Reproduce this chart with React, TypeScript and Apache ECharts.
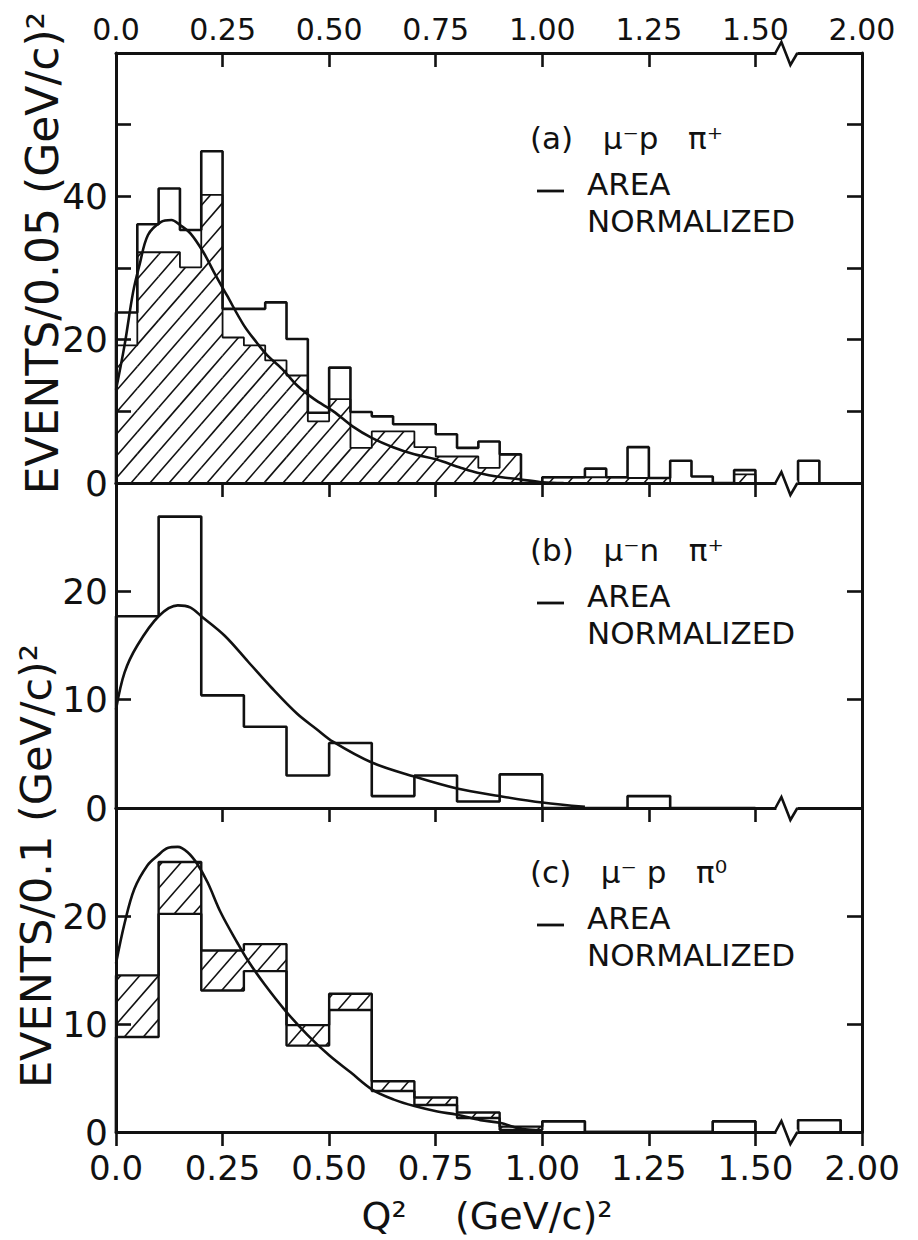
import React, { useEffect, useRef } from "react";
import * as echarts from "echarts";

const INK = "#111111";
const FONT = "DejaVu Sans";

// x axis: a break after 1.50 removes 0.25 of Q² so that 2.00 sits one tick after 1.50
const X_TICK_LABELS = ["0.0", "0.25", "0.50", "0.75", "1.00", "1.25", "1.50", "2.00"];
const X_TICK_STEP = 0.25;
const X_AXIS_MAX = 1.75;
const BREAK_AT = 1.575;
const BREAK_SHIFT = 0.25;

const Y_MAX = [60, 30, 30];
const Y_LABELS_A = [0, 20, 40];
const Y_LABELS_BC = [0, 10, 20];

// ---------- panel (a): mu- p pi+, bins of 0.05 ----------
const A_BIN_WIDTH = 0.05;
const A_BINS = [
  0.0, 0.05, 0.1, 0.15, 0.2, 0.25, 0.3, 0.35, 0.4, 0.45,
  0.5, 0.55, 0.6, 0.65, 0.7, 0.75, 0.8, 0.85, 0.9, 0.95,
  1.0, 1.05, 1.1, 1.15, 1.2, 1.25, 1.3, 1.35, 1.4, 1.45,
  1.85,
];
const A_TOTAL = [
  23.8, 36.1, 41.1, 35.3, 46.3, 24.3, 24.3, 25.2, 20.1, 9.8,
  16.1, 9.9, 9.3, 8.2, 8.2, 6.8, 4.9, 5.8, 4.0, 0,
  0.8, 0.8, 2.0, 0.8, 5.0, 0.7, 3.1, 0.9, 0, 1.8,
  3.1,
];
const A_HATCHED = [
  19.2, 32.2, 32.2, 30.1, 40.2, 20.3, 19.2, 17.1, 15.0, 8.6,
  11.7, 4.9, 7.2, 7.2, 5.0, 3.7, 3.7, 2.1, 4.0, 0,
  0.8, 0.8, 0.8, 0.8, 0.7, 0.7, 0, 0, 0, 1.2,
  0,
];
const A_CURVE_X = [
  0, 0.02, 0.04, 0.055, 0.075, 0.105, 0.13, 0.15, 0.175, 0.205,
  0.23, 0.26, 0.3, 0.33, 0.355, 0.39, 0.425, 0.465, 0.51, 0.555,
  0.6, 0.65, 0.7, 0.75, 0.81, 0.85, 0.905, 0.95, 1.0, 1.05,
];
const A_CURVE_Y = [
  13, 19.2, 26.6, 30.4, 34.6, 36.4, 36.7, 36.0, 34.8, 32.2,
  29.4, 26.2, 22.0, 19.6, 17.8, 15.9, 13.6, 11.7, 10.0, 7.9,
  6.3, 5.0, 4.0, 3.3, 2.1, 1.4, 0.8, 0.5, 0.1, 0,
];

// ---------- panel (b): mu- n pi+, bins of 0.1 ----------
const B_BIN_WIDTH = 0.1;
const B_BINS = [0.0, 0.1, 0.2, 0.3, 0.4, 0.5, 0.6, 0.7, 0.8, 0.9, 1.0, 1.1, 1.2, 1.3, 1.4];
const B_COUNTS = [17.7, 26.9, 10.4, 7.5, 3.0, 6.0, 1.1, 3.0, 0.6, 3.1, 0, 0, 1.1, 0, 0];
const B_CURVE_X = [
  0, 0.02, 0.05, 0.1, 0.145, 0.175, 0.2, 0.255, 0.31, 0.365,
  0.425, 0.47, 0.51, 0.6, 0.7, 0.8, 0.9, 1.0, 1.1,
];
const B_CURVE_Y = [
  9.1, 12.5, 15.0, 17.7, 18.7, 18.5, 17.7, 15.9, 13.5, 11.1,
  8.7, 7.3, 6.1, 4.2, 2.9, 1.8, 1.1, 0.5, 0.1,
];

// ---------- panel (c): mu- p pi0, bins of 0.1, hatched band ----------
const C_BIN_WIDTH = 0.1;
const C_BINS = [0.0, 0.1, 0.2, 0.3, 0.4, 0.5, 0.6, 0.7, 0.8, 0.9, 1.0, 1.1, 1.2, 1.3, 1.4, 1.85];
const C_LOW = [8.8, 20.2, 13.1, 14.9, 8.0, 11.3, 3.8, 2.5, 1.3, 0.2, 1.0, 0, 0, 0, 1.0, 1.1];
const C_HIGH = [14.5, 25.0, 16.8, 17.4, 9.9, 12.8, 4.7, 3.2, 1.8, 0.5, 1.0, 0, 0, 0, 1.0, 1.1];
const C_CURVE_X = [
  0, 0.02, 0.043, 0.074, 0.098, 0.121, 0.145, 0.168, 0.191, 0.215,
  0.246, 0.285, 0.309, 0.348, 0.398, 0.449, 0.5, 0.551, 0.602, 0.652,
  0.7, 0.754, 0.8, 0.855, 0.9, 0.95, 1.0,
];
const C_CURVE_Y = [
  15.6, 19.3, 22.5, 24.7, 25.6, 26.3, 26.4, 25.9, 24.8, 23.1,
  20.3, 17.5, 15.9, 13.7, 11.2, 9.0, 7.1, 5.5, 3.9, 3.0,
  2.4, 1.9, 1.6, 1.1, 0.85, 0.3, 0.15,
];

// ---------- texts ----------
const Y_TITLE_TOP = "EVENTS/0.05 (GeV/c)²";
const Y_TITLE_BOTTOM = "EVENTS/0.1 (GeV/c)²";
const X_TITLE = "Q²    (GeV/c)²";
const PANEL_LABELS = ["(a)   μ⁻p   π⁺", "(b)   μ⁻n   π⁺", "(c)   μ⁻ p   π⁰"];
const NOTE_LINE1 = "AREA";
const NOTE_LINE2 = "NORMALIZED";

// ---------- helpers ----------
const toAxis = (q: number) => (q > BREAK_AT ? q - BREAK_SHIFT : q);

function stepSegments(bins: number[], width: number, values: number[]) {
  const segs: number[][][] = [];
  let cur: number[][] | null = null;
  let prevEnd = -1;
  bins.forEach((x0, i) => {
    const x1 = x0 + width;
    if (!cur || Math.abs(x0 - prevEnd) > 1e-6) {
      if (cur) {
        cur.push([prevEnd, 0]);
        segs.push(cur);
      }
      cur = [[x0, 0]];
    }
    cur.push([x0, values[i]], [x1, values[i]]);
    prevEnd = x1;
  });
  if (cur) {
    (cur as number[][]).push([prevEnd, 0]);
    segs.push(cur);
  }
  return segs.map((s) => s.map(([x, y]) => [toAxis(x), y]));
}

function stepSeries(grid: number, bins: number[], width: number, values: number[], lw: number) {
  return stepSegments(bins, width, values).map((pts) => ({
    type: "line",
    xAxisIndex: grid * 2 + 1,
    yAxisIndex: grid * 2,
    data: pts,
    symbol: "none",
    silent: true,
    lineStyle: { color: INK, width: lw },
    z: 4,
  }));
}

const HATCH_GAP = 19;
const HATCH_SLOPE = 1.15;

function hatchSeries(grid: number, items: number[][]) {
  return {
    type: "custom",
    xAxisIndex: grid * 2 + 1,
    yAxisIndex: grid * 2,
    data: items,
    encode: { x: [0, 1], y: [2, 3] },
    silent: true,
    z: 3,
    renderItem: (_params: any, api: any) => {
      const tl = api.coord([api.value(0), api.value(3)]);
      const br = api.coord([api.value(1), api.value(2)]);
      const left = tl[0];
      const right = br[0];
      const top = tl[1];
      const bottom = br[1];
      const children: any[] = [];
      if (bottom - top < 1) return { type: "group", children };
      const t = HATCH_SLOPE;
      const cMin = Math.ceil((left + top / t) / HATCH_GAP) * HATCH_GAP;
      const cMax = right + bottom / t;
      for (let c = cMin; c <= cMax; c += HATCH_GAP) {
        const xa = Math.max(left, c - bottom / t);
        const xb = Math.min(right, c - top / t);
        if (xb - xa > 0.8) {
          children.push({
            type: "line",
            shape: { x1: xa, y1: (c - xa) * t, x2: xb, y2: (c - xb) * t },
            style: { stroke: INK, lineWidth: 1.6 },
          });
        }
      }
      return { type: "group", children };
    },
  };
}

function curveSeries(grid: number, xs: number[], ys: number[]) {
  return {
    type: "line",
    xAxisIndex: grid * 2 + 1,
    yAxisIndex: grid * 2,
    data: xs.map((x, i) => [toAxis(x), ys[i]]),
    smooth: 0.35,
    symbol: "none",
    silent: true,
    lineStyle: { color: INK, width: 2.6 },
    z: 5,
  };
}

function breakSeries(grid: number, withTop: boolean) {
  const data = [[BREAK_AT, 0]];
  if (withTop) data.push([BREAK_AT, Y_MAX[grid]]);
  return {
    type: "custom",
    xAxisIndex: grid * 2 + 1,
    yAxisIndex: grid * 2,
    data,
    encode: { x: 0, y: 1 },
    silent: true,
    clip: false,
    z: 10,
    renderItem: (_params: any, api: any) => {
      const p = api.coord([api.value(0), api.value(1)]);
      const cx = p[0];
      const cy = p[1];
      return {
        type: "group",
        children: [
          { type: "rect", shape: { x: cx - 11, y: cy - 2.5, width: 21, height: 5 }, style: { fill: "#ffffff" } },
          {
            type: "polyline",
            shape: { points: [[cx - 12, cy], [cx - 6, cy - 11], [cx + 3, cy + 12], [cx + 10, cy]] },
            style: { stroke: INK, lineWidth: 2.6, fill: "none" },
          },
        ],
      };
    },
  };
}

const GRIDS = [
  { left: 116, right: 56, top: 53, height: 430 },
  { left: 116, right: 56, top: 483, height: 325 },
  { left: 116, right: 56, top: 808, height: 324 },
];
const NOTE_TOP = [138, 550, 872];

export default function App() {
  const ref = useRef<HTMLDivElement>(null);

  useEffect(() => {
    if (!ref.current) return;
    const chart = echarts.init(ref.current, undefined, { renderer: "svg" });

    const xLabel = (v: number) => X_TICK_LABELS[Math.round(v / X_TICK_STEP)] ?? "";
    const lineStyle = { color: INK, width: 3 };
    const tickStyle = { color: INK, width: 2.6 };

    const xAxis: any[] = [];
    const yAxis: any[] = [];
    GRIDS.forEach((_g, i) => {
      xAxis.push({
        gridIndex: i,
        type: "value",
        position: "top",
        min: 0,
        max: X_AXIS_MAX,
        interval: X_TICK_STEP,
        axisLine: { show: true, onZero: false, lineStyle },
        axisTick: { show: true, inside: true, length: 14, lineStyle: tickStyle },
        axisLabel: {
          show: i === 0,
          formatter: xLabel,
          fontFamily: FONT,
          fontSize: 30,
          color: INK,
          margin: 9,
        },
        splitLine: { show: false },
      });
      xAxis.push({
        gridIndex: i,
        type: "value",
        position: "bottom",
        min: 0,
        max: X_AXIS_MAX,
        interval: X_TICK_STEP,
        axisLine: { show: true, onZero: false, lineStyle },
        axisTick: { show: i === 2, inside: false, length: 14, lineStyle: tickStyle },
        axisLabel: {
          show: i === 2,
          formatter: xLabel,
          fontFamily: FONT,
          fontSize: 34,
          lineHeight: 34,
          color: INK,
          margin: 19,
        },
        splitLine: { show: false },
      });
      const shown = i === 0 ? Y_LABELS_A : Y_LABELS_BC;
      yAxis.push({
        gridIndex: i,
        type: "value",
        position: "left",
        min: 0,
        max: Y_MAX[i],
        interval: 10,
        axisLine: { show: true, onZero: false, lineStyle },
        axisTick: { show: true, inside: true, length: 15, lineStyle: tickStyle },
        axisLabel: {
          formatter: (v: number) => (shown.includes(v) ? String(v) : ""),
          fontFamily: FONT,
          fontSize: 36,
          lineHeight: 30,
          color: INK,
          margin: 8,
        },
        splitLine: { show: false },
      });
      yAxis.push({
        gridIndex: i,
        type: "value",
        position: "right",
        min: 0,
        max: Y_MAX[i],
        interval: 10,
        axisLine: { show: true, onZero: false, lineStyle },
        axisTick: { show: true, inside: true, length: 15, lineStyle: tickStyle },
        axisLabel: { show: false },
        splitLine: { show: false },
      });
    });

    const series: any[] = [
      // panel (a)
      hatchSeries(0, A_BINS.map((x, i) => [toAxis(x), toAxis(x + A_BIN_WIDTH), 0, A_HATCHED[i]])),
      ...stepSeries(0, A_BINS, A_BIN_WIDTH, A_HATCHED, 1.8),
      ...stepSeries(0, A_BINS, A_BIN_WIDTH, A_TOTAL, 2.6),
      curveSeries(0, A_CURVE_X, A_CURVE_Y),
      breakSeries(0, true),
      // panel (b)
      ...stepSeries(1, B_BINS, B_BIN_WIDTH, B_COUNTS, 2.6),
      curveSeries(1, B_CURVE_X, B_CURVE_Y),
      breakSeries(1, false),
      // panel (c)
      hatchSeries(2, C_BINS.map((x, i) => [toAxis(x), toAxis(x + C_BIN_WIDTH), C_LOW[i], C_HIGH[i]])),
      ...stepSeries(2, C_BINS, C_BIN_WIDTH, C_LOW, 2.4),
      ...stepSeries(2, C_BINS, C_BIN_WIDTH, C_HIGH, 2.4),
      curveSeries(2, C_CURVE_X, C_CURVE_Y),
      breakSeries(2, false),
    ];

    const graphic: any[] = [
      {
        type: "text",
        x: 42,
        y: 253,
        rotation: Math.PI / 2,
        style: { text: Y_TITLE_TOP, fontFamily: FONT, fontSize: 44, fill: INK, align: "center", verticalAlign: "middle" },
      },
      {
        type: "text",
        x: 36,
        y: 866,
        rotation: Math.PI / 2,
        style: { text: Y_TITLE_BOTTOM, fontFamily: FONT, fontSize: 43, fill: INK, align: "center", verticalAlign: "middle" },
      },
      {
        type: "text",
        x: 487,
        y: 1216,
        style: { text: X_TITLE, fontFamily: FONT, fontSize: 38, fill: INK, align: "center", verticalAlign: "middle" },
      },
    ];
    NOTE_TOP.forEach((y, i) => {
      graphic.push(
        {
          type: "text",
          x: 530,
          y,
          style: { text: PANEL_LABELS[i], fontFamily: FONT, fontSize: 31, fill: INK, align: "left", verticalAlign: "middle" },
        },
        {
          type: "line",
          shape: { x1: 537, y1: y + 53, x2: 564, y2: y + 53 },
          style: { stroke: INK, lineWidth: 2.8 },
        },
        {
          type: "text",
          x: 587,
          y: y + 46,
          style: { text: NOTE_LINE1, fontFamily: FONT, fontSize: 31, fill: INK, align: "left", verticalAlign: "middle" },
        },
        {
          type: "text",
          x: 587,
          y: y + 83,
          style: { text: NOTE_LINE2, fontFamily: FONT, fontSize: 31, fill: INK, align: "left", verticalAlign: "middle" },
        }
      );
    });

    chart.setOption({
      animation: false,
      backgroundColor: "#ffffff",
      grid: GRIDS,
      xAxis,
      yAxis,
      series,
      graphic,
    });

    return () => chart.dispose();
  }, []);

  return (
    <div
      ref={ref}
      style={{ position: "absolute", left: 0, top: 0, width: 918, height: 1240, background: "#ffffff" }}
    />
  );
}
